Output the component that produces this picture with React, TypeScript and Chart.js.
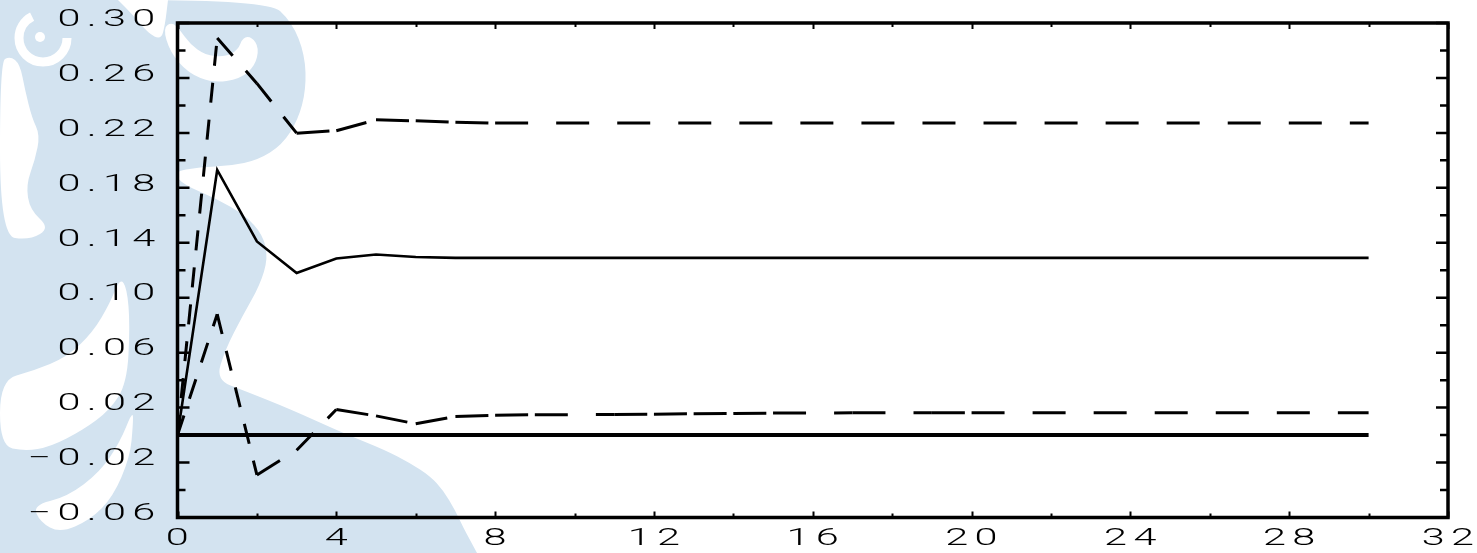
import React, { useEffect, useRef } from 'react';
import { Chart, registerables } from 'chart.js';

Chart.register(...registerables);

// ---------- data ----------
const horizons = [0, 1, 2, 3, 4, 5, 6, 7, 8, 9, 10, 11, 12, 13, 14, 15, 16, 17, 18, 19, 20, 21, 22, 23, 24, 25, 26, 27, 28, 29, 30];
const responseValues = [0, 0.193, 0.141, 0.118, 0.1285, 0.1315, 0.1297, 0.129, 0.129, 0.129, 0.129, 0.129, 0.129, 0.129, 0.129, 0.129, 0.129, 0.129, 0.129, 0.129, 0.129, 0.129, 0.129, 0.129, 0.129, 0.129, 0.129, 0.129, 0.129, 0.129, 0.129];
const upperBandValues = [0, 0.289, 0.256, 0.2198, 0.2216, 0.2295, 0.2288, 0.2277, 0.2272, 0.2272, 0.2272, 0.2272, 0.2272, 0.2272, 0.2272, 0.2272, 0.2272, 0.2272, 0.2272, 0.2272, 0.2272, 0.2272, 0.2272, 0.2272, 0.2272, 0.2272, 0.2272, 0.2272, 0.2272, 0.2272, 0.2272];
const lowerBandValues = [0, 0.088, -0.029, -0.011, 0.0186, 0.014, 0.0082, 0.0136, 0.0145, 0.0148, 0.0149, 0.015, 0.0152, 0.0156, 0.0158, 0.016, 0.0161, 0.0162, 0.0162, 0.0162, 0.0163, 0.0163, 0.0163, 0.0163, 0.0163, 0.0163, 0.0163, 0.0163, 0.0163, 0.0163, 0.0163];
const zeroValues = [0, 0, 0, 0, 0, 0, 0, 0, 0, 0, 0, 0, 0, 0, 0, 0, 0, 0, 0, 0, 0, 0, 0, 0, 0, 0, 0, 0, 0, 0, 0];

const xMin = 0;
const xMax = 32;
const xLabelStep = 4;
const xMinorStep = 2;
const yMin = -0.06;
const yMax = 0.3;
const yLabelStep = 0.04;
const yMinorStep = 0.02;

// ---------- styling ----------
const FONT = 'Roboto';
const TEXT_STRETCH = 1.8;
const LETTER_SPACING = 3.5;
const WATERMARK = 'rgb(211,227,240)';

type Pt = [number, number];

function smoothPath(ctx: CanvasRenderingContext2D, pts: Pt[]) {
  const n = pts.length;
  const mid = (a: Pt, b: Pt): Pt => [(a[0] + b[0]) / 2, (a[1] + b[1]) / 2];
  const start = mid(pts[n - 1], pts[0]);
  ctx.beginPath();
  ctx.moveTo(start[0], start[1]);
  for (let i = 0; i < n; i++) {
    const p = pts[i];
    const q = pts[(i + 1) % n];
    const m = mid(p, q);
    ctx.quadraticCurveTo(p[0], p[1], m[0], m[1]);
  }
  ctx.closePath();
  ctx.fill();
}

const blueMain: Pt[] = [
  [0, 0], [0, 0], [268, 0], [292, 22], [305, 55], [306, 90], [298, 120], [282, 145], [258, 160],
  [230, 166], [200, 167], [172, 172], [184, 185], [215, 198], [245, 215], [263, 235], [268, 258],
  [260, 285], [243, 315], [225, 350], [216, 380], [245, 391], [290, 409], [343, 433], [385, 450],
  [410, 463], [430, 476], [443, 490], [455, 510], [463, 527], [470, 540], [477, 553], [477, 553],
  [0, 553], [0, 553],
];
const whiteCrescent: Pt[] = [
  [163, 28], [170, 52], [188, 73], [213, 83], [240, 79], [255, 66], [259, 48], [252, 37], [243, 37],
  [238, 50], [225, 57], [205, 55], [190, 44], [180, 30], [172, 22],
];
const whiteTopGap: Pt[] = [[118, 0], [118, 0], [168, 0], [168, 0], [165, 25], [161, 40], [148, 33], [132, 14]];
const whiteColumn: Pt[] = [
  [0, 62], [10, 56], [20, 64], [25, 90], [32, 118], [40, 135], [35, 160], [26, 185], [30, 210],
  [50, 228], [30, 240], [0, 236],
];
const whiteHorn1: Pt[] = [
  [0, 380], [33, 371], [67, 357], [93, 332], [110, 303], [120, 278], [127, 288], [130, 325],
  [127, 383], [110, 410], [83, 430], [50, 447], [25, 451], [0, 446],
];
const whiteHorn2: Pt[] = [
  [33, 505], [67, 497], [100, 472], [120, 442], [133, 410], [133, 425], [130, 457], [113, 497],
  [90, 520], [60, 533], [40, 522],
];

const watermarkPlugin = {
  id: 'watermark',
  beforeDraw(chart: any) {
    const ctx: any = chart.ctx;
    ctx.save();
    ctx.fillStyle = WATERMARK;
    smoothPath(ctx, blueMain);
    ctx.fillStyle = '#ffffff';
    smoothPath(ctx, whiteCrescent);
    smoothPath(ctx, whiteTopGap);
    smoothPath(ctx, whiteColumn);
    smoothPath(ctx, whiteHorn1);
    smoothPath(ctx, whiteHorn2);
    ctx.strokeStyle = '#ffffff';
    ctx.lineWidth = 9;
    ctx.beginPath();
    ctx.arc(43, 38, 24, 0, Math.PI * 1.35);
    ctx.stroke();
    ctx.beginPath();
    ctx.arc(40, 37, 5, 0, Math.PI * 2);
    ctx.fillStyle = '#ffffff';
    ctx.fill();
    ctx.restore();
    // the tick labels of the reference are drawn in a wide, stretched face
    const proto = Object.getPrototypeOf(ctx);
    const origFill = proto.fillText;
    ctx.letterSpacing = LETTER_SPACING + 'px';
    ctx.fillText = function (text: string, x: number, y: number, maxWidth?: number) {
      this.save();
      this.translate(x, y);
      this.scale(TEXT_STRETCH, 1);
      if (maxWidth === undefined) origFill.call(this, text, 0, 0);
      else origFill.call(this, text, 0, 0, maxWidth / TEXT_STRETCH);
      this.restore();
    };
  },
  beforeDatasetsDraw(chart: any) {
    const ctx: any = chart.ctx;
    delete ctx.fillText;
    ctx.letterSpacing = '0px';
  },
};

const framePlugin = {
  id: 'frame',
  afterDatasetsDraw(chart: any) {
    const ctx: CanvasRenderingContext2D = chart.ctx;
    const a = chart.chartArea;
    const x = chart.scales.x;
    const y = chart.scales.y;
    ctx.save();
    ctx.strokeStyle = '#000';
    ctx.lineWidth = 2;
    ctx.beginPath();
    const nx = Math.round((xMax - xMin) / xMinorStep);
    for (let i = 0; i <= nx; i++) {
      const v = xMin + i * xMinorStep;
      const px = Math.round(x.getPixelForValue(v)) + 0.5;
      const len = i % 2 === 0 ? 6 : 4;
      ctx.moveTo(px, a.bottom);
      ctx.lineTo(px, a.bottom - len);
      ctx.moveTo(px, a.top);
      ctx.lineTo(px, a.top + len);
    }
    ctx.stroke();
    ctx.lineWidth = 2.5;
    ctx.beginPath();
    const ny = Math.round((yMax - yMin) / yMinorStep);
    for (let i = 0; i <= ny; i++) {
      const v = yMin + i * yMinorStep;
      const py = y.getPixelForValue(v);
      const len = i % 2 === 0 ? 12 : 8;
      ctx.moveTo(a.left, py);
      ctx.lineTo(a.left + len, py);
      ctx.moveTo(a.right, py);
      ctx.lineTo(a.right - len, py);
    }
    ctx.stroke();
    ctx.lineWidth = 3.5;
    ctx.strokeRect(a.left, a.top, a.right - a.left, a.bottom - a.top);
    ctx.restore();
  },
};

const STRETCH = 1.65;
function stretchedDash(c: any, dash: number, gap: number) {
  const dx = c.p1.x - c.p0.x;
  const dy = c.p1.y - c.p0.y;
  const len = Math.hypot(dx, dy);
  const u = Math.hypot(dx / STRETCH, dy);
  const f = u > 0 ? len / u : 1;
  return [dash * f, gap * f];
}

function points(values: number[]) {
  return horizons.map((h, i) => ({ x: h, y: values[i] }));
}

export default function App() {
  const ref = useRef<HTMLCanvasElement>(null);
  useEffect(() => {
    const canvas = ref.current!;
    const chart = new Chart(canvas, {
      type: 'line',
      data: {
        datasets: [
          {
            label: 'zero',
            data: points(zeroValues),
            borderColor: '#000',
            borderWidth: 4,
            pointRadius: 0,
            tension: 0,
          },
          {
            label: 'response',
            data: points(responseValues),
            borderColor: '#000',
            borderWidth: 2.6,
            pointRadius: 0,
            tension: 0,
          },
          {
            label: 'upper',
            data: points(upperBandValues),
            borderColor: '#000',
            borderWidth: 3,
            pointRadius: 0,
            tension: 0,
            segment: { borderDash: (c: any) => stretchedDash(c, 20, 17) },
          },
          {
            label: 'lower',
            data: points(lowerBandValues),
            borderColor: '#000',
            borderWidth: 3,
            pointRadius: 0,
            tension: 0,
            segment: { borderDash: (c: any) => stretchedDash(c, 20, 17) },
          },
        ],
      },
      options: {
        animation: false,
        responsive: false,
        devicePixelRatio: 1,
        layout: { padding: { left: 0, top: 23, right: 29, bottom: 0 } },
        plugins: { legend: { display: false }, tooltip: { enabled: false } },
        scales: {
          x: {
            type: 'linear',
            min: xMin,
            max: xMax,
            grid: { display: false, drawTicks: false },
            border: { display: false },
            ticks: {
              stepSize: xLabelStep,
              autoSkip: false,
              maxRotation: 0,
              padding: 8,
              labelOffset: 3,
              color: '#000',
              font: { family: FONT, size: 23, weight: '300' },
              callback: (v: any) => String(v),
            },
            afterFit: (s: any) => {
              s.height = 35.5;
              s.paddingLeft = 0;
              s.paddingRight = 0;
            },
          },
          y: {
            type: 'linear',
            min: yMin,
            max: yMax,
            grid: { display: false, drawTicks: false },
            border: { display: false },
            ticks: {
              stepSize: yLabelStep,
              autoSkip: false,
              padding: 16,
              labelOffset: -3,
              color: '#000',
              font: { family: FONT, size: 23, weight: '300' },
              callback: (v: any) => Number(v).toFixed(2).replace('-', '\u2212'),
            },
            afterFit: (s: any) => {
              s.width = 177.5;
              s.paddingTop = 0;
              s.paddingBottom = 0;
            },
          },
        },
      },
      plugins: [watermarkPlugin, framePlugin],
    } as any);
    return () => chart.destroy();
  }, []);
  return (
    <div style={{ position: 'fixed', left: 0, top: 0, width: 1477, height: 553, background: '#fff' }}>
      <canvas ref={ref} width={1477} height={553} style={{ display: 'block' }} />
    </div>
  );
}
